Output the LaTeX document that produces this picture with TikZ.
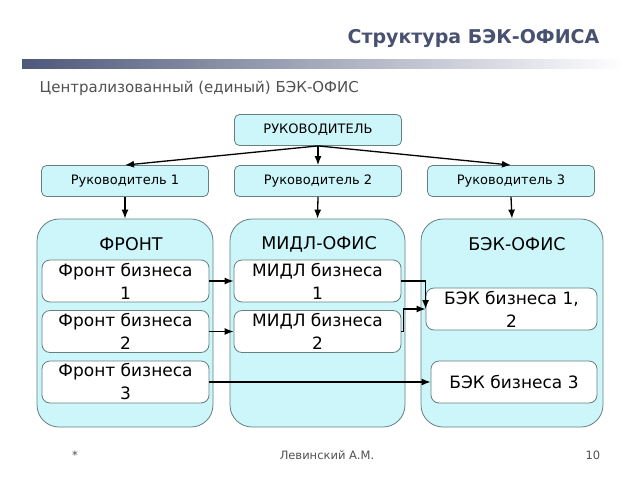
\documentclass[tikz,border=0pt]{standalone}
\usepackage{fontspec}
\setmainfont{DejaVu Sans}
\usetikzlibrary{%
	arrows.meta,%
	calc,%
	positioning
}
\definecolor{boxfill}{RGB}{204,246,250}
\definecolor{boxline}{RGB}{100,128,128}
\definecolor{titleblue}{RGB}{72,82,112}
\definecolor{bardark}{RGB}{78,88,122}
\definecolor{subgray}{RGB}{80,80,80}

\tikzset{
	headbox/.style={draw=boxline, fill=boxfill, rounded corners=5pt, minimum width=167pt, minimum height=31pt, inner sep=0pt, font=\fontsize{13}{15}\selectfont},
	column/.style={draw=boxline, fill=boxfill, rounded corners=22pt, minimum height=208pt, inner sep=0pt},
	unitbox/.style={draw=boxline, fill=white, rounded corners=8pt, minimum width=167pt, minimum height=42pt, inner sep=0pt, align=center, font=\fontsize{17}{23}\selectfont},
	coltitle/.style={font=\fontsize{17.5}{20}\selectfont},
	link/.style={-{Latex[length=9pt,width=7pt]}, line width=1.3pt},
	footer/.style={text=subgray, font=\fontsize{11.5}{13}\selectfont}
}

\begin{document}
\begin{tikzpicture}[x=1pt, y=-1pt, line width=0.8pt]
			\useasboundingbox (0,0) rectangle (640,480);
			
			% Draw the heading and the bar below it
			\node[anchor=east, text=titleblue, font=\bfseries\fontsize{19}{22}\selectfont] (title) at (603,38) {Структура БЭК-ОФИСА};
			\shade[left color=bardark, right color=white, draw=none] (22,59) rectangle (625,68);
			\node[anchor=west, text=subgray, font=\fontsize{15}{18}\selectfont] (subtitle) at (36,88) {Централизованный (единый) БЭК-ОФИС};
			
			% Draw the boss and the three managers
			\node[headbox] (boss) at (318,130) {РУКОВОДИТЕЛЬ};
			\node[headbox] (r1) at (125,181) {Руководитель 1};
			\node[headbox] (r2) at (318,181) {Руководитель 2};
			\node[headbox] (r3) at (511,181) {Руководитель 3};
			
			% Draw the three offices
			\node[column, minimum width=176pt] (front) at (125,323) {};
			\node[column, minimum width=175pt] (middle) at (317.5,323) {};
			\node[column, minimum width=182pt] (back) at (512,323) {};
			\node[coltitle] (fronttitle) at (131,244) {ФРОНТ};
			\node[coltitle] (middletitle) at (319,244) {МИДЛ-ОФИС};
			\node[coltitle] (backtitle) at (517,244) {БЭК-ОФИС};
			
			% Draw the business units in each office
			\node[unitbox] (f1) at (125.5,281) {Фронт бизнеса\\1};
			\node[unitbox] (f2) at (125.5,331.5) {Фронт бизнеса\\2};
			\node[unitbox] (f3) at (125.5,382) {Фронт бизнеса\\3};
			\node[unitbox] (m1) at (317.5,281) {МИДЛ бизнеса\\1};
			\node[unitbox] (m2) at (317.5,331.5) {МИДЛ бизнеса\\2};
			\node[unitbox, minimum width=171pt] (b12) at (511.5,309) {БЭК бизнеса 1,\\2};
			\node[unitbox, minimum width=166pt] (b3) at (514,382) {БЭК бизнеса 3};
			
			% Draw arrows from the boss down to the offices
			\foreach \r in {r1,r2,r3} {
				\draw[link] (boss.south) -- (\r.north);
			}
			\draw[link] (r1.south) -- (front.north);
			\draw[link] (r2.south) -- (middle.north);
			\draw[link] (r3.south) -- (back.north);
			
			% Draw arrows between the business units
			\draw[link] (f1.east) -- (m1.west);
			\draw[link] (f2.east) -- (m2.west);
			\draw[link] (f3.east) -- (b3.west);
			\draw[link] (m1.east) -| (b12.west);
			\draw[link] (m2.east) -- ++(2,0) |- (b12.west);
			
			% Draw the footer
			\node[footer] (star) at (75,455) {*};
			\node[footer] (author) at (327,455) {Левинский А.М.};
			\node[footer, anchor=east] (page) at (604,455) {10};
		\end{tikzpicture}
\end{document}
